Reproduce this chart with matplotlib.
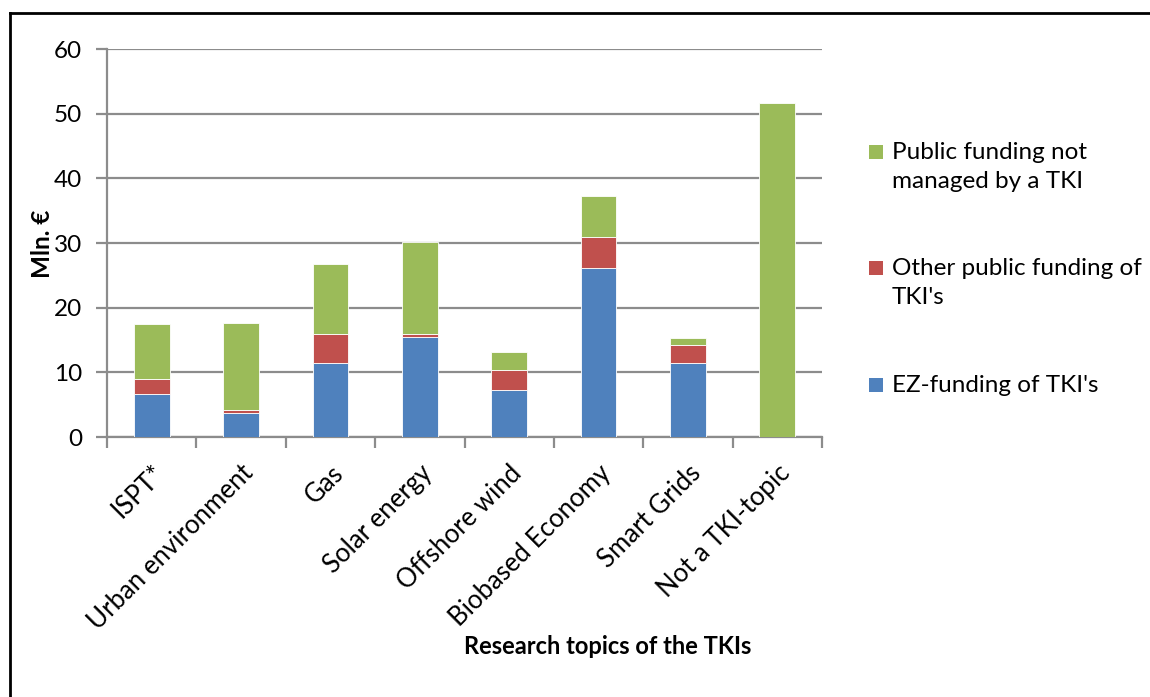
import matplotlib

matplotlib.use("Agg")
import matplotlib.pyplot as plt
from matplotlib.lines import Line2D
from matplotlib.patches import Rectangle
import numpy as np

plt.rcParams["font.family"] = ["Lato", "DejaVu Sans"]

categories = [
    "ISPT*",
    "Urban environment",
    "Gas",
    "Solar energy",
    "Offshore wind",
    "Biobased Economy",
    "Smart Grids",
    "Not a TKI-topic",
]
# values (Mln. euro)
ez_funding = [6.6, 3.7, 11.5, 15.5, 7.2, 26.2, 11.4, 0.0]
other_public = [2.3, 0.5, 4.4, 0.5, 3.2, 4.7, 2.8, 0.0]
not_managed = [8.5, 13.5, 10.9, 14.2, 2.8, 6.3, 1.1, 51.6]

series_names = [
    "EZ-funding of TKI's",
    "Other public funding of\nTKI's",
    "Public funding not\nmanaged by a TKI",
]
colors = ["#4F81BD", "#C0504D", "#9BBB59"]
y_ticks = [0, 10, 20, 30, 40, 50, 60]

W, H = 1150, 697
fig = plt.figure(figsize=(W / 100, H / 100), dpi=100)
ax = fig.add_axes([107 / W, 1 - 437 / H, (822 - 107) / W, (437 - 49) / H])

x = np.arange(len(categories))
bottom = np.zeros(len(categories))
for values, color in zip([ez_funding, other_public, not_managed], colors):
    ax.bar(x, values, width=0.4, bottom=bottom, color=color,
           edgecolor="#ffffff", linewidth=0.6, zorder=3)
    bottom += np.array(values)

ax.set_xlim(-0.5, len(categories) - 0.5)
ax.set_ylim(0, 60)
ax.set_yticks(y_ticks)
ax.yaxis.grid(True, color="#8c8c8c", linewidth=1.6, zorder=0)
ax.set_axisbelow(True)

ax.set_xticks(np.arange(len(categories) + 1) - 0.5)
ax.set_xticklabels([])
ax.set_xticks(x, minor=True)
ax.set_xticklabels(categories, minor=True, rotation=45, ha="right",
                   rotation_mode="anchor", fontsize=18.5)
ax.tick_params(axis="x", which="minor", length=0, pad=17)
ax.tick_params(axis="x", which="major", length=8, width=1.6, color="#8c8c8c")
ax.tick_params(axis="y", length=8, width=1.6, color="#8c8c8c", labelsize=17.5, pad=10)

for side in ["top", "right"]:
    ax.spines[side].set_visible(False)
for side in ["left", "bottom"]:
    ax.spines[side].set_color("#8c8c8c")
    ax.spines[side].set_linewidth(1.6)

fig.text(43 / W, 1 - 244 / H, "Mln. €", fontsize=17.5, fontweight="bold",
         rotation=90, ha="center", va="center")
fig.text(608 / W, 1 - 647 / H, "Research topics of the TKIs", fontsize=17,
         fontweight="bold", ha="center", va="center")

# legend drawn by hand: square beside the first line of each entry
legend_rows = [152, 268, 385]
for name, color, row in zip(series_names[::-1], colors[::-1], legend_rows):
    fig.add_artist(Rectangle((869 / W, 1 - (row + 7) / H), 14 / W, 14 / H,
                             facecolor=color, edgecolor="none",
                             transform=fig.transFigure))
    fig.text(892 / W, 1 - (row - 10) / H, name, fontsize=17.5, ha="left",
             va="top", linespacing=1.45)

# border of the chart frame (partially cropped in the original)
fig.add_artist(Line2D([0.009, 1.0], [1 - 12.5 / H, 1 - 12.5 / H], color="black",
                      linewidth=2, transform=fig.transFigure))
fig.add_artist(Line2D([0.009, 0.009], [0.0, 1 - 12.5 / H], color="black",
                      linewidth=2, transform=fig.transFigure))

fig.savefig("out.png", dpi=100)
